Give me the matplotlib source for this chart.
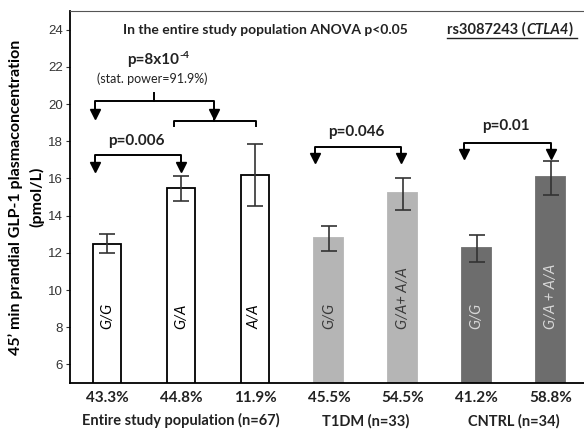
import matplotlib
matplotlib.use('Agg')
import matplotlib.pyplot as plt
import matplotlib.transforms as mtransforms

plt.rcParams['font.family'] = ['Lato', 'DejaVu Sans']

# данные
genotypes = ['G/G', 'G/A', 'A/A', 'G/G', 'G/A+ A/A', 'G/G', 'G/A + A/A']
means = [12.5, 15.5, 16.2, 12.8, 15.2, 12.25, 16.05]
err_low = [12.0, 14.8, 14.5, 12.1, 14.3, 11.5, 15.1]
err_high = [13.0, 16.15, 17.85, 13.45, 16.0, 12.95, 16.95]
percents = ['43.3%', '44.8%', '11.9%', '45.5%', '54.5%', '41.2%', '58.8%']
groups = ['Entire study population (n=67)', 'T1DM (n=33)', 'CNTRL (n=34)']
group_pos = [1.0, 3.5, 5.5]

face = ['white'] * 3 + ['#b5b5b5'] * 2 + ['#6d6d6d'] * 2
edge = ['black'] * 3 + ['#b5b5b5'] * 2 + ['#6d6d6d'] * 2
txt_col = ['black'] * 3 + ['#3a3a3a'] * 2 + ['#d8d8d8'] * 2

x = list(range(len(means)))
yerr = [[m - lo for m, lo in zip(means, err_low)],
        [hi - m for m, hi in zip(means, err_high)]]

fig = plt.figure(figsize=(5.84, 4.33), dpi=100)
ax = fig.add_axes([0.12, 0.1155, 0.88, 0.859])

ax.bar(x, means, width=0.39, color=face, edgecolor=edge, linewidth=1.3, zorder=2)
ax.errorbar(x, means, yerr=yerr, fmt='none', ecolor='#333333', elinewidth=1.2,
            capsize=6, capthick=1.2, zorder=3)

for xi, g, c in zip(x, genotypes, txt_col):
    ax.text(xi, 7.9, g, rotation=90, ha='center', va='bottom', style='italic',
            fontsize=10.5, color=c, zorder=4)

ax.set_xlim(-0.5, 6.45)
ax.set_ylim(5, 25)
ax.set_yticks(range(6, 25, 2))
ax.tick_params(axis='y', labelsize=9.5, colors='#333333', length=3, pad=2)
for lbl in ax.get_yticklabels():
    lbl.set_family(['Liberation Sans', 'DejaVu Sans'])
ax.set_xticks(x)
ax.set_xticklabels(percents, fontsize=11, fontweight='bold', color='#222222')
ax.tick_params(axis='x', length=0, pad=6)

ax.spines['right'].set_visible(False)
ax.spines['top'].set_color('#555555')
ax.spines['left'].set_linewidth(1.3)
ax.spines['bottom'].set_linewidth(1.3)

ax.set_ylabel('45\u2019 min prandial GLP-1 plasmaconcentration\n(pmol/L)',
              fontsize=11.5, fontweight='bold', labelpad=3, linespacing=1.5)

trans = mtransforms.blended_transform_factory(ax.transData, ax.transAxes)
for gp, gname in zip(group_pos, groups):
    ax.text(gp, -0.102, gname, transform=trans, ha='center', va='center',
            fontsize=10.5, fontweight='bold', color='#222222')

# заголовки
ax.text(2.14, 24.0, 'In the entire study population ANOVA p<0.05', ha='center',
        va='center', fontsize=10, fontweight='bold', color='#222222')
t1 = ax.text(4.6, 24.0, 'rs3087243 (', ha='left', va='center',
             fontsize=10.5, fontweight='bold', color='#222222')
t2 = ax.annotate('CTLA4', xy=(1, 0), xycoords=t1, ha='left', va='bottom',
                 fontsize=10.5, fontweight='bold', style='italic', color='#222222')
ax.annotate(')', xy=(1, 0), xycoords=t2, ha='left', va='bottom',
            fontsize=10.5, fontweight='bold', color='#222222')
ax.plot([4.6, 6.35], [23.55, 23.55], color='#222222', lw=1.0, clip_on=False)

# скобки со стрелками
def bracket(x1, x2, ybar, ytip):
    ax.plot([x1, x1, x2, x2], [ytip + 0.25, ybar, ybar, ytip + 0.25],
            color='black', lw=1.4, zorder=3)
    ax.plot([x1, x2], [ytip, ytip], 'v', color='black', ms=7, zorder=3)

bracket(-0.16, 1.0, 17.25, 16.6)
ax.text(0.4, 18.0, 'p=0.006', ha='center', va='center', fontsize=11,
        fontweight='bold', color='#222222')

bracket(2.81, 3.97, 17.7, 17.1)
ax.text(3.37, 18.5, 'p=0.046', ha='center', va='center', fontsize=11,
        fontweight='bold', color='#222222')

bracket(4.83, 6.01, 17.9, 17.3)
ax.text(5.4, 18.8, 'p=0.01', ha='center', va='center', fontsize=11,
        fontweight='bold', color='#222222')

bracket(-0.16, 1.45, 20.17, 19.45)
ax.plot([0.63, 0.63], [20.17, 20.57], color='black', lw=1.4)
ax.plot([0.9, 0.9, 2.01, 2.01], [18.8, 19.1, 19.1, 18.8], color='black', lw=1.4)
ax.plot([1.45, 1.45], [19.1, 19.45], color='black', lw=1.4)
p1 = ax.text(0.27, 22.35, 'p=8x10', ha='left', va='center', fontsize=11,
             fontweight='bold', color='#222222')
ax.annotate('-4', xy=(1, 0.55), xycoords=p1, ha='left', va='bottom',
            fontsize=7.5, fontweight='bold', color='#222222')
ax.text(0.61, 21.35, '(stat. power=91.9%)', ha='center', va='center',
        fontsize=9, color='#222222')

fig.savefig('out.png', dpi=100)
